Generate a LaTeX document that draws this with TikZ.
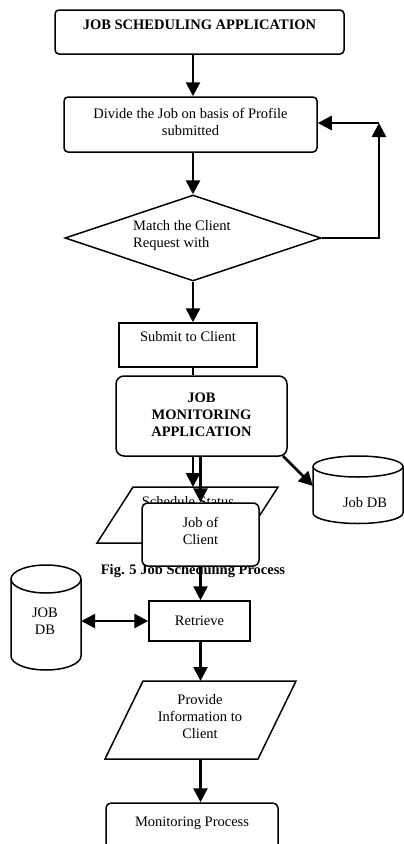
\documentclass[tikz,border=0pt]{standalone}
\usepackage{fontspec}
\setmainfont{Liberation Serif}
\usetikzlibrary{arrows.meta,shapes.geometric}
\begin{document}
\begin{tikzpicture}[x=1pt,y=-1pt,
  box/.style={draw,line width=1.5pt,inner sep=0pt,fill=white},
  rbox/.style={box,rounded corners=4pt},
  txt/.style={font=\fontsize{14.5}{17}\selectfont,inner sep=0pt,align=center},
  arr/.style={line width=2.7pt,-{Triangle[width=14pt,length=14pt]}},
  darr/.style={line width=2.7pt,{Triangle[width=14pt,length=14pt]}-{Triangle[width=14pt,length=14pt]}},
  ln/.style={line width=2.7pt}]
\useasboundingbox (0,0) rectangle (404,844);
\clip (0,0) rectangle (404,844);
\fill[white] (0,0) rectangle (404,844);

% top application box
\node[rbox,minimum width=289pt,minimum height=44pt] (app) at (199.5,32) {};
\node[txt,font=\fontsize{14.5}{17}\selectfont\bfseries] (apptxt) at (199.5,25) {JOB SCHEDULING APPLICATION};

% divide box
\node[rbox,minimum width=253pt,minimum height=55pt] (divide) at (190.5,124.5) {};
\node[txt] (dividetxt) at (190.5,122) {Divide the Job on basis of Profile\\submitted};

% decision
\node[diamond,draw,line width=1.5pt,inner sep=0pt,minimum width=256pt,minimum height=86pt] (match) at (193,238) {};
\node[txt,align=left,anchor=west] (matchtxt) at (133,235.5) {Match the Client\\Request with};

% submit
\node[box,minimum width=138pt,minimum height=44pt] (submit) at (188,345) {};
\node[txt] (submittxt) at (188,337) {Submit to Client};

% monitoring application
\node[box,rounded corners=8pt,minimum width=171pt,minimum height=80pt] (monapp) at (201.5,416) {};
\node[txt,font=\fontsize{14.5}{17}\selectfont\bfseries] (monapptxt) at (201.5,415) {JOB\\MONITORING\\APPLICATION};

% right Job DB cylinder
\draw[line width=1.5pt,fill=white] (313,466.5) -- (313,513) arc (180:0:45 and 10.5) -- (403,466.5);
\draw[line width=1.5pt] (358,466.5) ellipse (45 and 10.5);
\node[inner sep=0pt,minimum width=90pt,minimum height=67pt] (jobdb) at (358,489.5) {};
\node[txt] (jobdbtxt) at (365,503) {Job DB};
\coordinate (dbin) at (313,486);

% schedule status parallelogram
\draw[line width=1.5pt,fill=white] (133,487) -- (278,487) -- (242,543) -- (97,543) -- cycle;
\coordinate (sstop) at (193,487);
\node[txt] (sstxt) at (188,502) {Schedule Status};

% caption
\node[txt,font=\fontsize{14.5}{17}\selectfont\bfseries] (caption) at (193,571) {Fig. 5 Job Scheduling Process};

% arrows from monitoring application
\draw[arr] (monapp.south -| match) -- (sstop);
\draw[arr] (283,456) -- (dbin);

% job of client
\node[box,rounded corners=6pt,minimum width=117pt,minimum height=63pt] (joc) at (200.5,534.5) {};
\node[txt] (joctxt) at (200.5,531) {Job of\\Client};
\draw[arr] (monapp.south -| joc) -- (joc.north);

% left JOB DB cylinder
\draw[line width=1.5pt,fill=white] (11,579) -- (11,656) arc (180:0:35 and 14) -- (81,579);
\draw[line width=1.5pt] (46,579) ellipse (35 and 14);
\node[inner sep=0pt,minimum width=70pt,minimum height=105pt] (leftdb) at (46,617.5) {};
\node[txt] (leftdbtxt) at (45,621) {JOB\\DB};

% retrieve
\node[box,minimum width=101pt,minimum height=40pt] (retrieve) at (199.5,621) {};
\node[txt] (retrievetxt) at (199.5,621) {Retrieve};

% provide information parallelogram
\draw[line width=1.5pt,fill=white] (143,681) -- (296,681) -- (258,759) -- (105,759) -- cycle;
\coordinate (ptop) at (200.5,681);
\coordinate (pbot) at (200.5,759);
\node[txt] (providetxt) at (200,717) {Provide\\Information to\\Client};

% monitoring process
\node[box,rounded corners=5pt,minimum width=172pt,minimum height=80pt] (monproc) at (192,843) {};
\node[txt] (monproctxt) at (192,823) {Monitoring Process};

% connectors
\draw[arr] (app.south -| match) -- (divide.north -| match);
\draw[arr] (divide.south -| match) -- (match.north);
\draw[arr] (match.south) -- (submit.north -| match);
\draw[ln] (submit.south -| match) -- (monapp.north -| match);
\coordinate (fb) at (379,123);
\draw[arr] (match.east) -| (fb);
\draw[arr] (fb) -- (divide.east |- fb);
\draw[arr] (joc.south) -- (retrieve.north -| joc);
\draw[darr] (leftdb.east |- retrieve) -- (retrieve.west);
\draw[arr] (retrieve.south -| joc) -- (ptop);
\draw[arr] (pbot) -- (monproc.north -| joc);
\end{tikzpicture}
\end{document}
